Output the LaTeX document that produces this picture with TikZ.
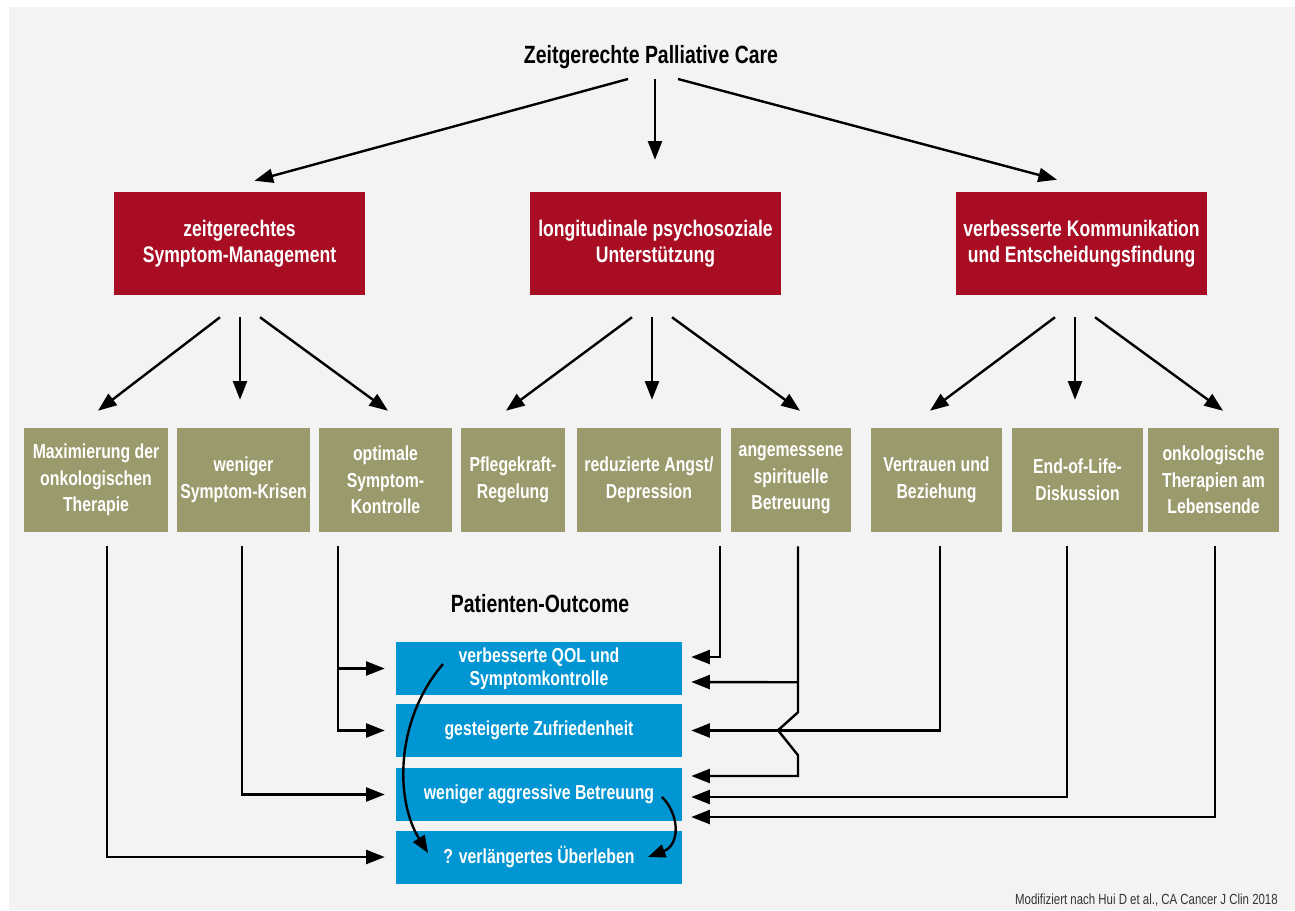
\documentclass[tikz,border=0pt]{standalone}
\usepackage{fontspec}
\setmainfont{Liberation Sans}[FakeStretch=0.78]
\usepackage{xcolor}
\usetikzlibrary{arrows.meta,calc}

\definecolor{palred}{RGB}{168,13,36}
\definecolor{palgreen}{RGB}{154,154,108}
\definecolor{palblue}{RGB}{0,149,211}
\definecolor{palbg}{RGB}{243,243,243}

\tikzset{
  headline/.style={font=\bfseries\fontsize{18.7}{21}\selectfont},
  redbox/.style={fill=palred,text=white,inner sep=0pt,align=center,
    minimum width=188.25pt,minimum height=77.6pt,
    font=\bfseries\fontsize{16.9}{20}\selectfont},
  greenbox/.style={fill=palgreen,text=white,inner sep=0pt,align=center,
    minimum height=78pt,font=\bfseries\fontsize{15.2}{20}\selectfont},
  bluebox/.style={fill=palblue,text=white,inner sep=0pt,align=center,
    minimum width=214.5pt,minimum height=39.75pt,
    font=\bfseries\fontsize{15.2}{17.6}\selectfont},
  arr/.style={line width=1.8pt,-{Triangle[length=14pt,width=10.5pt]}},
  curvarr/.style={line width=1.8pt,-{Triangle[length=13pt,width=10pt]}},
}

\begin{document}
\begin{tikzpicture}[x=0.75pt,y=0.75pt,yscale=-1,xscale=1]
\useasboundingbox (0,0) rectangle (1295,910);
%background
\fill [color=palbg] (9,7) rectangle (1295,910);

% Title
\node (title) [headline] at (651,57) {Zeitgerechte Palliative Care};

% Red boxes
\node (sym) [redbox] at (239.5,243.75) {zeitgerechtes\\Symptom-Management};
\node (psy) [redbox] at (655.5,243.75) {longitudinale psychosoziale\\Unterstützung};
\node (kom) [redbox] at (1081.5,243.75) {verbesserte Kommunikation\\und Entscheidungsfindung};

% Green boxes
\node (g1) [greenbox,minimum width=108pt] at (96,480) {Maximierung der\\onkologischen\\Therapie};
\node (g2) [greenbox,minimum width=99.75pt] at (243.5,480) {weniger\\Symptom-Krisen};
\node (g3) [greenbox,minimum width=99.75pt] at (385.5,480) {optimale\\Symptom-\\Kontrolle};
\node (g4) [greenbox,minimum width=78pt] at (513,480) {Pflegekraft-\\Regelung};
\node (g5) [greenbox,minimum width=108pt] at (649,480) {reduzierte Angst/\\Depression};
\node (g6) [greenbox,minimum width=90pt] at (791,480) {angemessene\\spirituelle\\Betreuung};
\node (g7) [greenbox,minimum width=98.25pt] at (936.5,480) {Vertrauen und\\Beziehung};
\node (g8) [greenbox,minimum width=98.25pt] at (1077.5,480) {End-of-Life-\\Diskussion};
\node (g9) [greenbox,minimum width=98.25pt] at (1213.5,480) {onkologische\\Therapien am\\Lebensende};

% Patient outcome
\node (outc) [headline] at (540,604) {Patienten-Outcome};
\node (q1) [bluebox] at (539,668.5) {verbesserte QOL und\\Symptomkontrolle};
\node (q2) [bluebox] at (539,730.5) {gesteigerte Zufriedenheit};
\node (q3) [bluebox] at (539,794.5) {weniger aggressive Betreuung};
\node (q4) [bluebox] at (539,857) {? verlängertes Überleben};

% Source
\node (src) [anchor=base east,inner sep=0pt,text=black!80,font=\fontsize{11}{12}\selectfont] at (1278,904) {Modifiziert nach Hui D et al., CA Cancer J Clin 2018};

% Title arrows
\draw [arr] ($(title)+(-23,22)$) -- ($(sym.north)+(15,-11)$);
\draw [arr] ($(title)+(4,22)$) -- ($(psy.north)+(-0.5,-32)$);
\draw [arr] ($(title)+(27,22)$) -- ($(kom.north)+(-24.5,-12)$);

% Red to green
\draw [arr] ($(sym.south)+(-19.5,21.5)$) -- ($(g1.north)+(2,-17)$);
\draw [arr] ($(sym.south)+(0.5,21.5)$) -- ($(sym.south |- g2.north)+(0.5,-28)$);
\draw [arr] ($(sym.south)+(20.5,21.5)$) -- ($(g3.north)+(2.5,-17)$);
\draw [arr] ($(psy.south)+(-23.5,21.5)$) -- ($(g4.north)+(-7,-17)$);
\draw [arr] ($(psy.south)+(-3.5,21.5)$) -- ($(psy.south |- g5.north)+(-3.5,-28)$);
\draw [arr] ($(psy.south)+(16.5,21.5)$) -- ($(g6.north)+(9,-17)$);
\draw [arr] ($(kom.south)+(-26.5,21.5)$) -- ($(g7.north)+(-6.5,-17)$);
\draw [arr] ($(kom.south)+(-6.5,21.5)$) -- ($(kom.south |- g8.north)+(-6.5,-28)$);
\draw [arr] ($(kom.south)+(13.5,21.5)$) -- ($(g9.north)+(9.5,-17)$);

% Green to outcome (left)
\draw [arr] ($(g1.south)+(11,14)$) |- ($(q4.west)+(-11,0)$);
\draw [arr] ($(g2.south)+(-1.5,14)$) |- ($(q3.west)+(-11,0)$);
\draw [arr] ($(g3.south)+(-47.5,14)$) |- ($(q2.west)+(-11,0)$);
\draw [arr] ($(q1.west)+(-58,0)$) -- ($(q1.west)+(-11,0)$);

% Green to outcome (right)
\draw [arr] ($(g5.south)+(71,14)$) |- ($(q1.east)+(9,-11.5)$);
\draw [arr] ($(g6.south)+(7,14)$) -- ++(0,166) -- ++(-20,18) -- ++(20,25) |- ($(q3.east)+(9,-18.5)$);
\draw [arr] ($(g6.south)+(7,150)$) -- ($(q1.east)+(9,13.5)$);
\draw [arr] ($(g7.south)+(3.5,14)$) |- ($(q2.east)+(9,0)$);
\draw [arr] ($(g8.south)+(-10.5,14)$) |- ($(q3.east)+(9,2.5)$);
\draw [arr] ($(g9.south)+(1.5,14)$) |- ($(q3.east)+(9,22.5)$);

% Curved arrows inside outcome
\draw [curvarr] ($(q1.center)+(-96,-4.5)$) .. controls ($(q1.center)+(-144,51.5)$) and ($(q4.center)+(-144,-57)$) .. ($(q4.center)+(-111,-4)$);
\draw [curvarr] ($(q3.center)+(123,2.5)$) .. controls ($(q3.center)+(141,20.5)$) and ($(q4.center)+(141,-12)$) .. ($(q4.center)+(109,0)$);

\end{tikzpicture}
\end{document}
